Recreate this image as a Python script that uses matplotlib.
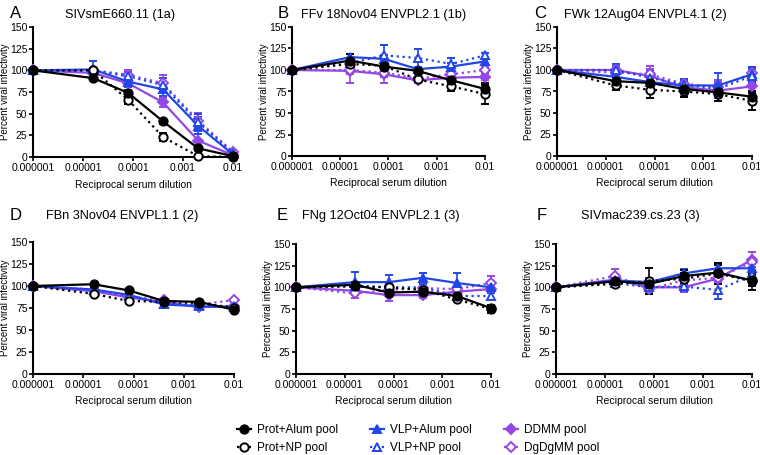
import numpy as np
import matplotlib
matplotlib.use("Agg")
import matplotlib.pyplot as plt
from matplotlib.lines import Line2D

plt.rcParams['font.family'] = ['Liberation Sans', 'DejaVu Sans']

# reciprocal serum dilutions (first point = no serum reference)
dilution = [1e-6, 1.6e-5, 8e-5, 4e-4, 2e-3, 1e-2]

letters = ["A", "B", "C", "D", "E", "F"]
titles = ["SIVsmE660.11 (1a)", "FFv 18Nov04 ENVPL2.1 (1b)", "FWk 12Aug04 ENVPL4.1 (2)",
          "FBn 3Nov04 ENVPL1.1 (2)", "FNg 12Oct04 ENVPL2.1 (3)", "SIVmac239.cs.23 (3)"]

# one list per panel (A..F), each 6 dilutions
prot_alum = [[100, 91, 74, 41, 10, 1],
             [100, 111, 104, 99, 88, 78],
             [100, 87, 85, 78, 74, 69],
             [100, 102, 95, 83, 82, 73],
             [100, 103, 94, 95, 90, 76],
             [100, 107, 104, 113, 117, 108]]
prot_alum_err = [[0, 2, 3, 3, 2, 1],
                 [0, 8, 4, 2, 4, 7],
                 [0, 4, 3, 3, 3, 4],
                 [0, 1, 1, 2, 1, 1],
                 [0, 3, 3, 2, 3, 4],
                 [0, 3, 5, 7, 9, 6]]
prot_np = [[100, 100, 66, 23, 1, 0],
           [100, 107, 105, 89, 81, 72],
           [100, 82, 77, 75, 72, 64],
           [100, 91, 83, 82, 81, 75],
           [100, 101, 100, 97, 86, 75],
           [100, 104, 107, 110, 116, 107]]
prot_np_err = [[0, 2, 5, 5, 1, 0],
               [0, 5, 8, 3, 5, 11],
               [0, 5, 10, 6, 8, 11],
               [0, 1, 1, 1, 1, 1],
               [0, 2, 3, 3, 2, 5],
               [0, 3, 15, 6, 12, 10]]
vlp_alum = [[100, 101, 87, 78, 36, 3],
            [100, 115, 113, 101, 104, 110],
            [100, 92, 86, 82, 82, 95],
            [100, 96, 90, 79, 77, 76],
            [100, 106, 106, 111, 105, 100],
            [100, 108, 106, 116, 122, 122]]
vlp_alum_err = [[0, 10, 6, 8, 10, 2],
                [0, 4, 5, 2, 4, 3],
                [0, 5, 5, 5, 14, 8],
                [0, 1, 1, 2, 1, 1],
                [0, 12, 8, 6, 11, 3],
                [0, 5, 5, 5, 6, 5]]
vlp_np = [[100, 100, 93, 83, 40, 5],
          [100, 108, 117, 114, 107, 117],
          [100, 100, 91, 83, 78, 93],
          [100, 96, 89, 80, 78, 77],
          [100, 102, 100, 100, 90, 90],
          [100, 105, 100, 101, 97, 114]]
vlp_np_err = [[0, 3, 5, 8, 10, 2],
              [0, 5, 12, 10, 7, 3],
              [0, 7, 8, 6, 6, 8],
              [0, 1, 1, 1, 1, 1],
              [0, 4, 4, 4, 4, 3],
              [0, 5, 5, 5, 11, 5]]
ddmm = [[100, 97, 85, 63, 19, 2],
        [100, 99, 95, 88, 91, 92],
        [100, 100, 93, 80, 76, 81],
        [100, 94, 87, 82, 76, 77],
        [100, 96, 91, 91, 95, 98],
        [100, 109, 100, 100, 110, 132]]
ddmm_err = [[0, 3, 4, 5, 8, 1],
            [0, 14, 10, 3, 4, 4],
            [0, 5, 12, 10, 12, 5],
            [0, 1, 1, 1, 1, 1],
            [0, 5, 7, 3, 4, 4],
            [0, 5, 5, 5, 5, 9]]
dgdgmm = [[100, 100, 95, 85, 42, 6],
          [100, 100, 97, 90, 95, 100],
          [100, 97, 95, 84, 80, 96],
          [100, 95, 88, 84, 79, 84],
          [100, 93, 97, 99, 98, 105],
          [100, 113, 98, 108, 111, 129]]
dgdgmm_err = [[0, 3, 5, 10, 9, 2],
              [0, 5, 5, 3, 5, 4],
              [0, 6, 6, 6, 6, 8],
              [0, 1, 1, 1, 1, 1],
              [0, 5, 5, 5, 4, 8],
              [0, 8, 5, 5, 5, 5]]

BLACK = "#000000"
BLUE = "#2146e6"
PURPLE = "#9447e6"

series = [
    ("Prot+Alum pool", prot_alum, prot_alum_err, BLACK, "o", "-", True),
    ("Prot+NP pool", prot_np, prot_np_err, BLACK, "o", ":", False),
    ("VLP+Alum pool", vlp_alum, vlp_alum_err, BLUE, "^", "-", True),
    ("VLP+NP pool", vlp_np, vlp_np_err, BLUE, "^", ":", False),
    ("DDMM pool", ddmm, ddmm_err, PURPLE, "D", "-", True),
    ("DgDgMM pool", dgdgmm, dgdgmm_err, PURPLE, "D", ":", False),
]
draw_order = [4, 5, 2, 3, 1, 0]

# axes rectangles in pixels: left, top, right, bottom
rects = [(33, 27, 233, 157), (292, 27, 485, 156), (557, 27, 752, 156),
         (33, 242, 234, 374), (296, 244, 491, 374), (556, 244, 752, 374)]
title_pos = [(120, 15), (384, 15), (645, 15), (122, 216), (381, 216), (640, 216)]
letter_pos = [(16, 13), (283, 13), (540, 13), (16, 215), (282, 215), (542, 215)]

W, H = 760, 455
fig = plt.figure(figsize=(W / 100, H / 100), dpi=100)

for p in range(6):
    l, t, r, b = rects[p]
    ax = fig.add_axes([l / W, 1 - b / H, (r - l) / W, (b - t) / H])
    for k in draw_order:
        name, vals, errs, col, mk, ls, filled = series[k]
        ax.errorbar(dilution, vals[p], yerr=errs[p], color=col, ls=ls, lw=1.6,
                    marker=mk, ms=6 if mk != "D" else 5,
                    mfc=col if filled else "white", mec=col, mew=1.4,
                    capsize=3, elinewidth=1.2, capthick=1.2, clip_on=False, zorder=3)
    ax.set_xscale("log")
    ax.set_xlim(1e-6, 1e-2)
    ax.set_ylim(0, 150)
    ax.set_yticks([0, 25, 50, 75, 100, 125, 150])
    ax.set_xticks([1e-6, 1e-5, 1e-4, 1e-3, 1e-2])
    ax.set_xticklabels(["0.000001", "0.00001", "0.0001", "0.001", "0.01"])
    ax.minorticks_off()
    ax.tick_params(axis="both", labelsize=7.5, length=3, width=1.2, pad=1)
    for s in ["top", "right"]:
        ax.spines[s].set_visible(False)
    for s in ["left", "bottom"]:
        ax.spines[s].set_linewidth(1.5)
    ax.set_ylabel("Percent viral infectivity", fontsize=7, va="center")
    ax.yaxis.set_label_coords(-28 / (r - l), 0.5)
    ax.set_xlabel("Reciprocal serum dilution", fontsize=7.5, labelpad=5)
    fig.text(title_pos[p][0] / W, 1 - title_pos[p][1] / H, titles[p],
             fontsize=9.2, ha="center", va="center")
    fig.text(letter_pos[p][0] / W, 1 - letter_pos[p][1] / H, letters[p],
             fontsize=12, ha="center", va="center")

handles = []
for name, vals, errs, col, mk, ls, filled in series:
    handles.append(Line2D([], [], color=col, ls=ls, lw=1.6, marker=mk,
                          ms=6 if mk != "D" else 5,
                          mfc=col if filled else "white", mec=col, mew=1.4,
                          label=name))
fig.legend(handles=handles, ncol=3, loc="center", bbox_to_anchor=(418 / W, 1 - 439 / H),
           frameon=False, fontsize=8.5, handlelength=1.2, handletextpad=0.5,
           columnspacing=2.7, labelspacing=0.45, borderpad=0)

fig.savefig("out.png", dpi=100)
